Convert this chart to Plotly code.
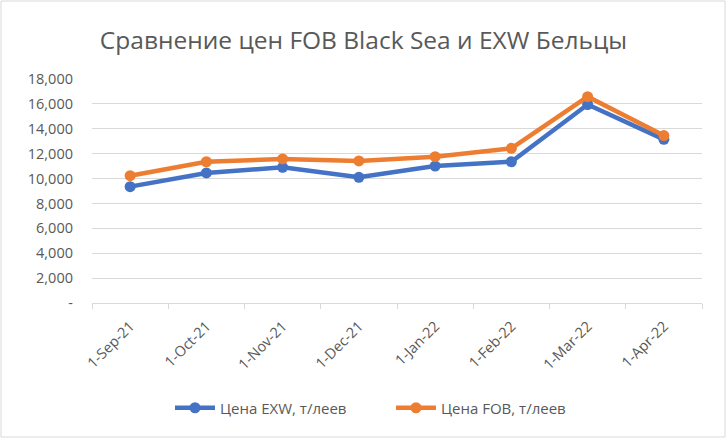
import plotly.graph_objects as go

categories = ["1-Sep-21", "1-Oct-21", "1-Nov-21", "1-Dec-21", "1-Jan-22", "1-Feb-22", "1-Mar-22", "1-Apr-22"]
exw = [9350, 10450, 10900, 10100, 11000, 11350, 15950, 13150]
fob = [10230, 11350, 11580, 11420, 11760, 12430, 16580, 13450]
y_ticks = [0, 2000, 4000, 6000, 8000, 10000, 12000, 14000, 16000, 18000]
y_labels = ["-"] + [f"{v:,}" for v in y_ticks[1:]]

W, H = 727, 439
ml, mr, mt, mb = 92, 25, 79, 136
pw, ph = W - ml - mr, H - mt - mb

fig = go.Figure()
fig.add_trace(go.Scatter(x=categories, y=exw, name="Цена EXW, т/леев", mode="lines+markers",
                         line=dict(color="#4472C4", width=4.5), marker=dict(size=11, color="#4472C4")))
fig.add_trace(go.Scatter(x=categories, y=fob, name="Цена FOB, т/леев", mode="lines+markers",
                         line=dict(color="#ED7D31", width=4.5), marker=dict(size=11, color="#ED7D31")))

font_fam = "Open Sans, Liberation Sans, sans-serif"
fig.update_layout(
    width=W, height=H,
    margin=dict(l=ml, r=mr, t=mt, b=mb, autoexpand=False),
    paper_bgcolor="white", plot_bgcolor="white",
    title=dict(text="Сравнение цен FOB Black Sea и EXW Бельцы", x=0.5, xanchor="center",
               y=1 - 40 / H, yanchor="middle", font=dict(family=font_fam, size=24.5, color="#595959")),
    font=dict(family=font_fam, color="#595959", size=14),
    showlegend=True,
    legend=dict(orientation="h", x=(170 - ml) / pw, xanchor="left", y=-(408 - 303) / ph, yanchor="middle",
                font=dict(size=15, color="#595959"), itemwidth=40,
                entrywidth=166, entrywidthmode="pixels"),
    xaxis=dict(type="category", tickangle=-45, showgrid=False, showline=True, linecolor="#D9D9D9",
               linewidth=1, ticks="outside", tickson="boundaries", ticklen=5, tickcolor="#D9D9D9",
               tickfont=dict(size=14.5, color="#595959"), range=[-0.5, 7.5], ticklabelstandoff=8),
    yaxis=dict(range=[0, 18000], tickvals=y_ticks, ticktext=y_labels, showgrid=True,
               gridcolor="#D9D9D9", gridwidth=1, zeroline=False, showline=False,
               tickfont=dict(size=14.5, color="#595959"), ticks="", ticklabelstandoff=18),
)

# outer chart border
fig.add_shape(type="rect", xref="paper", yref="paper",
              x0=(1 - ml) / pw, x1=(W - 2 - ml) / pw,
              y0=-(H - 2 - mt - ph) / ph, y1=1 + (mt - 1) / ph,
              line=dict(color="#D9D9D9", width=1), fillcolor="rgba(0,0,0,0)", layer="below")

fig.write_html("out.html")
